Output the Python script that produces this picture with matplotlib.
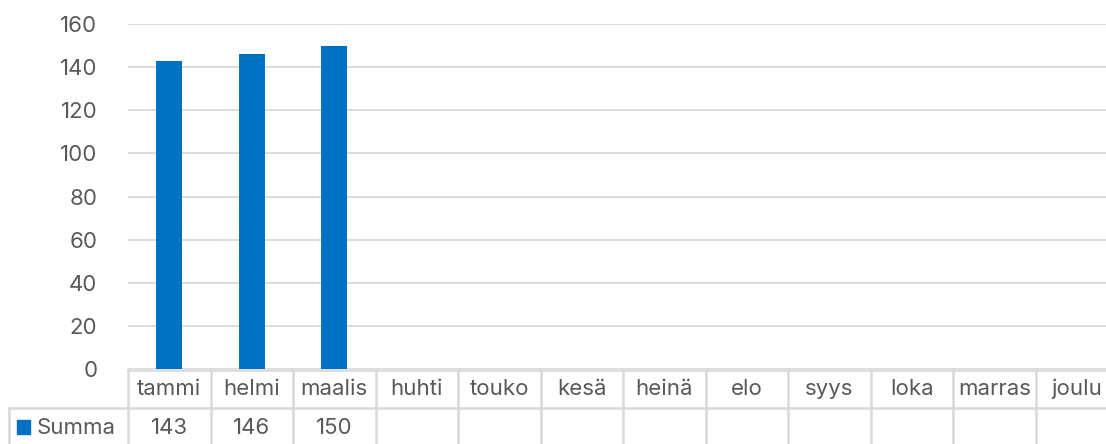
import matplotlib
matplotlib.use("Agg")
import matplotlib.pyplot as plt
import matplotlib.transforms as mtransforms
from matplotlib.lines import Line2D
from matplotlib.patches import Rectangle

months = ["tammi", "helmi", "maalis", "huhti", "touko", "kesä",
          "heinä", "elo", "syys", "loka", "marras", "joulu"]
summa = [143, 146, 150, None, None, None, None, None, None, None, None, None]
series_name = "Summa"
yticks = [0, 20, 40, 60, 80, 100, 120, 140, 160]

BAR_C = "#0070C0"
GRID_C = "#d9d9d9"
TEXT_C = "#595959"
W, H = 1106, 444
FS = 16

plt.rcParams["font.family"] = ["Inter", "DejaVu Sans"]

fig = plt.figure(figsize=(W / 100, H / 100), dpi=100)
left, right, y0, y160 = 128, 1118, 369, 24
ax = fig.add_axes([left / W, 1 - y0 / H, (right - left) / W, (y0 - y160) / H])

xs = list(range(len(months)))
vals = [v if v is not None else 0 for v in summa]
ax.bar(xs, vals, width=0.32, color=BAR_C, zorder=3)
ax.set_xlim(-0.5, len(months) - 0.5)
ax.set_ylim(0, 160)
ax.set_yticks(yticks)
ax.set_yticklabels([str(t) for t in yticks], fontsize=FS, color=TEXT_C)
ax.tick_params(axis="y", length=0, pad=22)
ax.set_xticks([])
ax.grid(axis="y", color=GRID_C, lw=1.3, zorder=0)
for s in ax.spines.values():
    s.set_visible(False)

# data table below the axis
tr = mtransforms.blended_transform_factory(ax.transData, fig.transFigure)
fy = lambda py: 1 - py / H
row1, row2, row3 = 370, 408, 446
lw = 1.8
lkw = dict(color=GRID_C, lw=lw, clip_on=False, zorder=1)
fig.add_artist(Line2D([left / W, 1.05], [fy(row1)] * 2,
                      transform=fig.transFigure, **lkw))
fig.add_artist(Line2D([9 / W, 1.05], [fy(row2)] * 2,
                      transform=fig.transFigure, **lkw))
fig.add_artist(Line2D([9 / W, 9 / W], [fy(row2), fy(row3)],
                      transform=fig.transFigure, **lkw))
for i in range(len(months) + 1):
    fig.add_artist(Line2D([i - 0.5, i - 0.5], [fy(row1), fy(row3)],
                          transform=tr, **lkw))
for i, (m, v) in enumerate(zip(months, summa)):
    fig.text(i, fy(389), m, transform=tr, ha="center", va="center",
             fontsize=FS, color=TEXT_C)
    if v is not None:
        fig.text(i, fy(428), str(v), transform=tr, ha="center",
                 va="center", fontsize=FS, color=TEXT_C)

fig.add_artist(Rectangle((17 / W, fy(434)), 13 / W, 14 / H,
                         transform=fig.transFigure, color=BAR_C))
fig.text(37 / W, fy(428), series_name, ha="left", va="center",
         fontsize=FS, color=TEXT_C)

fig.savefig("out.png", dpi=100)
